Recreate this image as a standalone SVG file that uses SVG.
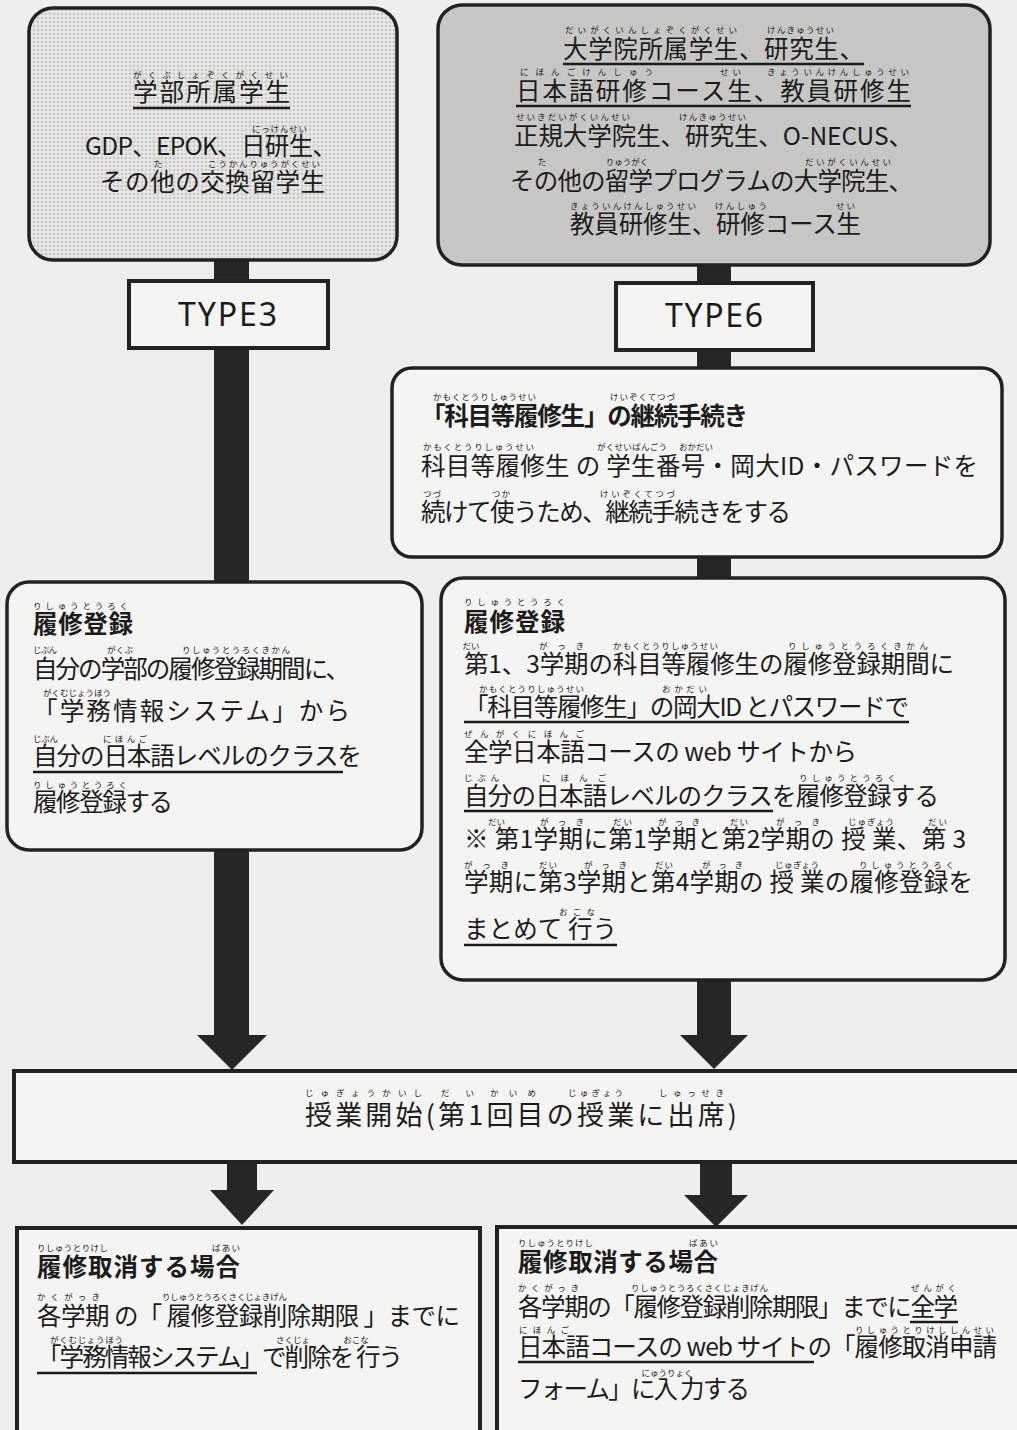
<svg xmlns="http://www.w3.org/2000/svg" width="1017" height="1430" viewBox="0 0 1017 1430">
<style>
.t{font-family:"Noto Sans CJK JP","Noto Sans",sans-serif;font-size:24.5px;fill:#1c1c1c}
.b{font-weight:700}
.f{font-family:"Noto Sans CJK JP","Noto Sans",sans-serif;font-size:8.5px;fill:#1c1c1c;transform:translateY(-2px)}
.m{text-anchor:middle}
.ul{stroke:#1c1c1c;stroke-width:2.5}
.box{fill:#f4f4f2;stroke:#222;stroke-width:3.5}
.sq{fill:#f4f4f2;stroke:#222;stroke-width:4}
.arr{fill:#262626}
.ty{font-family:"Noto Sans","Liberation Sans",sans-serif;font-size:32px;fill:#1c1c1c}
</style>
<defs>
<pattern id="dots" width="4" height="4" patternUnits="userSpaceOnUse">
<rect width="4" height="4" fill="#e4e4e2"/>
<circle cx="2" cy="2" r="0.9" fill="#b8b8b6"/>
</pattern>
</defs>
<rect x="0" y="0" width="1017" height="1430" fill="#eeeeec"/>

<g id="connectors">
<polygon class="arr" points="214,258 249,258 249,1035 267,1035 232,1070 197,1035 214,1035"/>
<polygon class="arr" points="697,262 731,262 731,1035 748,1035 714,1069 680,1035 697,1035"/>
<polygon class="arr" points="227,1160 257,1160 257,1190 274,1190 242,1225 210,1190 227,1190"/>
<polygon class="arr" points="700,1160 732,1160 732,1195 748,1195 716,1227 684,1195 700,1195"/>
</g>

<g id="node-gakubu">
<rect x="29" y="8" width="368" height="252" rx="24" fill="url(#dots)" stroke="#222" stroke-width="3.5"/>
<text class="f" x="133" y="80" textLength="155">がくぶしょぞくがくせい</text>
<text class="t" x="133" y="101" textLength="157">学部所属学生</text>
<line class="ul" x1="133" y1="108" x2="290" y2="108"/>
<text class="f" x="252" y="134" textLength="55">にっけんせい</text>
<text class="t" x="85" y="155" textLength="252">GDP、EPOK、日研生、</text>
<text class="f m" x="158" y="169">た</text>
<text class="f" x="208" y="169" textLength="112">こうかんりゅうがくせい</text>
<text class="t" x="100" y="191" textLength="225">その他の交換留学生</text>
</g>

<g id="node-daigakuin">
<rect x="438" y="5" width="552" height="260" rx="24" fill="#c6c6c4" stroke="#222" stroke-width="3.5"/>
<text class="f" x="565" y="35" textLength="172">だいがくいんしょぞくがくせい</text>
<text class="f" x="767" y="35" textLength="67">けんきゅうせい</text>
<text class="t" x="563" y="58" textLength="301">大学院所属学生、研究生、</text>
<line class="ul" x1="563" y1="64" x2="864" y2="64"/>
<text class="f" x="520" y="77" textLength="133">にほんごけんしゅう</text>
<text class="f" x="720" y="77" textLength="21">せい</text>
<text class="f" x="767" y="77" textLength="142">きょういんけんしゅうせい</text>
<text class="t" x="516" y="100" textLength="395">日本語研修コース生、教員研修生</text>
<line class="ul" x1="516" y1="106" x2="911" y2="106"/>
<text class="f" x="516" y="122" textLength="114">せいきだいがくいんせい</text>
<text class="f" x="679" y="122" textLength="67">けんきゅうせい</text>
<text class="t" x="514" y="145" textLength="399">正規大学院生、研究生、O-NECUS、</text>
<text class="f m" x="542" y="167">た</text>
<text class="f m" x="627" y="167">りゅうがく</text>
<text class="f" x="805" y="167" textLength="86">だいがくいんせい</text>
<text class="t" x="510" y="190" textLength="403">その他の留学プログラムの大学院生、</text>
<text class="f" x="570" y="211" textLength="126">きょういんけんしゅうせい</text>
<text class="f" x="715" y="211" textLength="52">けんしゅう</text>
<text class="f" x="836" y="211" textLength="19">せい</text>
<text class="t" x="570" y="233" textLength="291">教員研修生、研修コース生</text>
</g>

<g id="node-type3">
<rect class="sq" x="129" y="281" width="199" height="67"/>
<text class="ty" x="178" y="326" textLength="99">TYPE3</text>
</g>

<g id="node-type6">
<rect class="sq" x="616" y="283" width="197" height="67"/>
<text class="ty" x="665" y="327" textLength="98">TYPE6</text>
</g>

<g id="node-keizoku">
<rect class="box" x="392" y="368" width="610" height="189" rx="20"/>
<text class="f" x="433" y="402" textLength="103">かもくとうりしゅうせい</text>
<text class="f" x="610" y="402" textLength="65">けいぞくてつづ</text>
<text class="t b" x="421" y="425" textLength="327">「科目等履修生」の継続手続き</text>
<text class="f" x="423" y="452" textLength="111">かもくとうりしゅうせい</text>
<text class="f" x="597" y="452" textLength="70">がくせいばんごう</text>
<text class="f m" x="696" y="452">おかだい</text>
<text class="t" x="421" y="475" textLength="557">科目等履修生 の 学生番号・岡大ID・パスワードを</text>
<text class="f" x="423" y="499" textLength="18">つづ</text>
<text class="f" x="492" y="499" textLength="18">つか</text>
<text class="f" x="600" y="499" textLength="75">けいぞくてつづ</text>
<text class="t" x="421" y="521" textLength="370">続けて使うため、継続手続きをする</text>
</g>

<g id="node-rishu-left">
<rect class="box" x="7" y="582" width="415" height="268" rx="22"/>
<text class="f" x="33" y="611" textLength="95">りしゅうとうろく</text>
<text class="t b" x="33" y="633" textLength="100">履修登録</text>
<text class="f" x="33" y="655" textLength="24">じぶん</text>
<text class="f" x="107" y="655" textLength="26">がくぶ</text>
<text class="f" x="182" y="655" textLength="108">りしゅうとうろくきかん</text>
<text class="t" x="33" y="678" textLength="317">自分の学部の履修登録期間に、</text>
<text class="f m" x="77" y="698">がくむじょうほう</text>
<text class="t" x="33" y="720" textLength="317">「学務情報システム」から</text>
<text class="f" x="33" y="744" textLength="25">じぶん</text>
<text class="f" x="103" y="744" textLength="44">にほんご</text>
<text class="t" x="33" y="765" textLength="329">自分の日本語レベルのクラスを</text>
<line class="ul" x1="33" y1="772" x2="343" y2="772"/>
<text class="f" x="33" y="790" textLength="94">りしゅうとうろく</text>
<text class="t" x="33" y="811" textLength="140">履修登録する</text>
</g>

<g id="node-rishu-right">
<rect class="box" x="441" y="578" width="564" height="402" rx="22"/>
<text class="f" x="464" y="607" textLength="101">りしゅうとうろく</text>
<text class="t b" x="464" y="631" textLength="101">履修登録</text>
<text class="f m" x="471" y="651">だい</text>
<text class="f" x="539" y="651" textLength="45">がっき</text>
<text class="f" x="613" y="651" textLength="105">かもくとうりしゅうせい</text>
<text class="f" x="788" y="651" textLength="140">りしゅうとうろくきかん</text>
<text class="t" x="464" y="673" textLength="490">第1、3学期の科目等履修生の履修登録期間に</text>
<text class="f" x="479" y="694" textLength="105">かもくとうりしゅうせい</text>
<text class="f" x="662" y="694" textLength="45">おかだい</text>
<text class="t" x="464" y="716" textLength="445">「科目等履修生」の岡大ID とパスワードで</text>
<line class="ul" x1="464" y1="722" x2="909" y2="722"/>
<text class="f" x="464" y="739" textLength="120">ぜんがくにほんご</text>
<text class="t" x="464" y="761" textLength="393">全学日本語コースの web サイトから</text>
<text class="f" x="464" y="783" textLength="35">じぶん</text>
<text class="f" x="542" y="783" textLength="64">にほんご</text>
<text class="f" x="799" y="783" textLength="97">りしゅうとうろく</text>
<text class="t" x="464" y="805" textLength="475">自分の日本語レベルのクラスを履修登録する</text>
<line class="ul" x1="464" y1="811" x2="773" y2="811"/>
<text class="f" x="488" y="827" textLength="17">だい</text>
<text class="f" x="540" y="827" textLength="44">がっき</text>
<text class="f" x="613" y="827" textLength="19">だい</text>
<text class="f" x="658" y="827" textLength="42">がっき</text>
<text class="f" x="730" y="827" textLength="18">だい</text>
<text class="f" x="776" y="827" textLength="44">がっき</text>
<text class="f" x="848" y="827" textLength="46">じゅぎょう</text>
<text class="f" x="928" y="827" textLength="19">だい</text>
<text class="t" x="464" y="848" textLength="502">※ 第1学期に第1学期と第2学期の 授 業、第 3</text>
<text class="f" x="464" y="870" textLength="45">がっき</text>
<text class="f" x="539" y="870" textLength="18">だい</text>
<text class="f" x="584" y="870" textLength="43">がっき</text>
<text class="f" x="655" y="870" textLength="18">だい</text>
<text class="f" x="702" y="870" textLength="41">がっき</text>
<text class="f" x="775" y="870" textLength="44">じゅぎょう</text>
<text class="f" x="859" y="870" textLength="95">りしゅうとうろく</text>
<text class="t" x="464" y="891" textLength="509">学期に第3学期と第4学期の 授 業の履修登録を</text>
<text class="f" x="559" y="917" textLength="36">おこな</text>
<text class="t" x="464" y="938" textLength="153">まとめて 行う</text>
<line class="ul" x1="464" y1="945" x2="617" y2="945"/>
</g>

<g id="node-kaishi">
<rect class="sq" x="14" y="1071" width="1015" height="91"/>
<text class="f" x="305" y="1098" textLength="117">じゅぎょうかいし</text>
<text class="f" x="441" y="1098" textLength="33">だい</text>
<text class="f" x="490" y="1098" textLength="46">かいめ</text>
<text class="f" x="568" y="1098" textLength="55">じゅぎょう</text>
<text class="f" x="659" y="1098" textLength="65">しゅっせき</text>
<text class="t" x="305" y="1125" textLength="432" style="font-size:27px">授業開始(第1回目の授業に出席)</text>
</g>

<g id="node-torikeshi-left">
<rect class="sq" x="17" y="1228" width="463" height="230"/>
<text class="f" x="37" y="1253" textLength="71">りしゅうとりけし</text>
<text class="f" x="212" y="1253" textLength="28">ばあい</text>
<text class="t b" x="37" y="1276" textLength="203">履修取消する場合</text>
<text class="f" x="37" y="1302" textLength="63">かくがっき</text>
<text class="f" x="162" y="1302" textLength="125">りしゅうとうろくさくじょきげん</text>
<text class="t" x="37" y="1325" textLength="423">各学期 の「 履修登録削除期限 」までに</text>
<text class="f" x="50" y="1345" textLength="73">がくむじょうほう</text>
<text class="f m" x="293" y="1345">さくじょ</text>
<text class="f m" x="356" y="1345">おこな</text>
<text class="t" x="37" y="1366" textLength="366">「学務情報システム」で削除を 行う</text>
<line class="ul" x1="37" y1="1373" x2="257" y2="1373"/>
</g>

<g id="node-torikeshi-right">
<rect class="sq" x="497" y="1227" width="530" height="230"/>
<text class="f" x="518" y="1248" textLength="75">りしゅうとりけし</text>
<text class="f" x="689" y="1248" textLength="29">ばあい</text>
<text class="t b" x="518" y="1271" textLength="200">履修取消する場合</text>
<text class="f" x="518" y="1293" textLength="61">かくがっき</text>
<text class="f" x="631" y="1293" textLength="137">りしゅうとうろくさくじょきげん</text>
<text class="f" x="911" y="1293" textLength="45">ぜんがく</text>
<text class="t" x="518" y="1316" textLength="440">各学期の「履修登録削除期限」までに全学</text>
<line class="ul" x1="910" y1="1322" x2="958" y2="1322"/>
<text class="f" x="519" y="1335" textLength="50">にほんご</text>
<text class="f" x="855" y="1335" textLength="139">りしゅうとりけししんせい</text>
<text class="t" x="518" y="1356" textLength="479">日本語コースの web サイトの「履修取消申請</text>
<line class="ul" x1="518" y1="1362" x2="814" y2="1362"/>
<text class="f m" x="667" y="1378">にゅうりょく</text>
<text class="t" x="518" y="1398" textLength="232">フォーム」に入 力する</text>
</g>
</svg>
